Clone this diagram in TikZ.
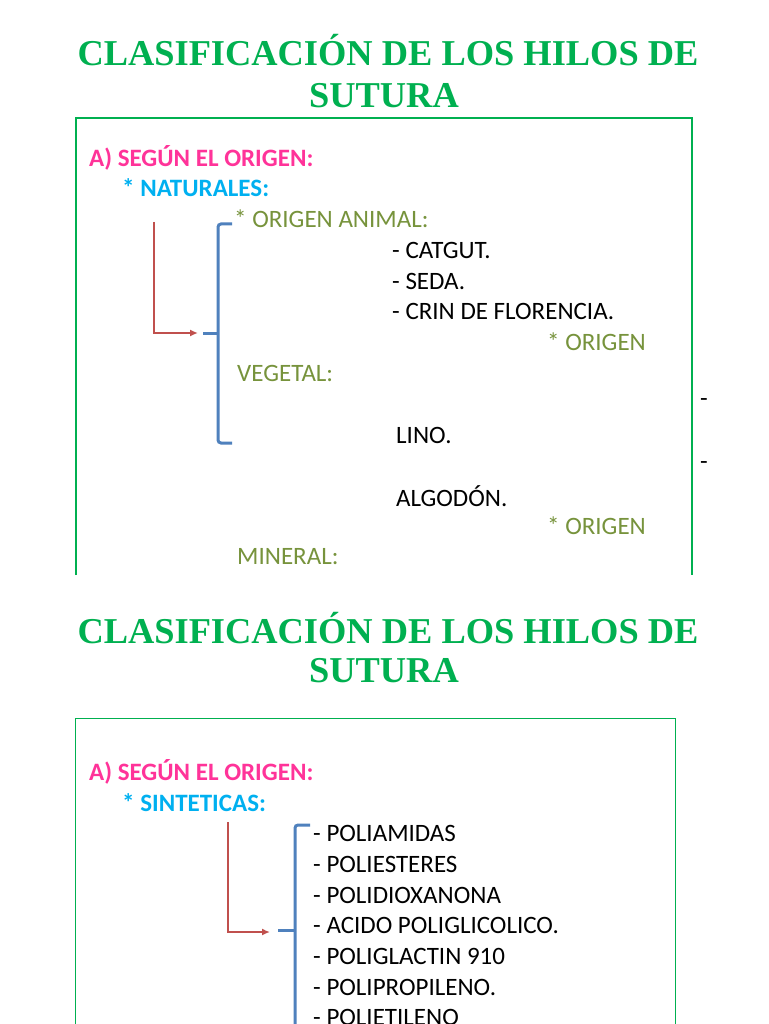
\documentclass[tikz,border=0pt]{standalone}
\usepackage{fontspec}
\usetikzlibrary{arrows.meta}
\setmainfont{Carlito}
\newfontfamily\titlefont{Liberation Serif}
\definecolor{tgreen}{HTML}{00B050}
\definecolor{tpink}{HTML}{FF3399}
\definecolor{tcyan}{HTML}{00B0F0}
\definecolor{tolive}{HTML}{77933C}
\definecolor{tred}{HTML}{C0504D}
\definecolor{tblue}{HTML}{4F81BD}
\begin{document}
\begin{tikzpicture}[x=1pt,y=-1pt,
  ttl/.style={text=tgreen,font=\titlefont\fontsize{36.4}{42}\selectfont\bfseries,align=center},
  txt/.style={anchor=west,inner sep=0,font=\fontsize{25}{28}\selectfont},
  pk/.style={txt,text=tpink,font=\fontsize{25}{28}\selectfont\bfseries},
  cy/.style={txt,text=tcyan,font=\fontsize{25}{28}\selectfont\bfseries},
  ol/.style={txt,text=tolive},
  bk/.style={txt,text=black},
  brk/.style={tblue,line width=3pt,rounded corners=3pt},
  arr/.style={tred,line width=2.5pt,-{Latex[length=8pt,width=7pt]}}]
\useasboundingbox (0,0) rectangle (768,1024);
\fill[white] (0,0) rectangle (768,1024);
\node[ttl] (t1) at (388,50) {CLASIFICACIÓN DE LOS HILOS DE};
\node[ttl] (t1b) at (384,96) {SUTURA};
\draw[tgreen,line width=1.5pt] (76,575) -- (76,118) -- (692,118) -- (692,575);
\node[pk] (a1) at (89,158) {A) SEGÚN EL ORIGEN:};
\node[cy] (n1) at (122,188) {* NATURALES:};
\node[ol] (oa) at (234,219) {* ORIGEN ANIMAL:};
\node[bk] at (392,250) {- CATGUT.};
\node[bk] at (392,281) {- SEDA.};
\node[bk] at (392,311) {- CRIN DE FLORENCIA.};
\node[ol] at (547,342) {* ORIGEN};
\node[ol] at (237,373) {VEGETAL:};
\node[bk] at (700,403) {-};
\node[bk] at (396,435) {LINO.};
\node[bk] at (700,466) {-};
\node[bk] at (396,496) {ALGODÓN.};
\node[ol] at (547,526) {* ORIGEN};
\node[ol] at (237,557) {MINERAL:};
\fill[white] (0,576) rectangle (768,592);
\coordinate (b1t) at (232,224);
\coordinate (b1m) at (203,333);
\draw[brk] (b1t) -- (218,224) -- (218,443) -- (232,443);
\draw[brk] (218,333) -- (b1m);
\coordinate (r1) at (154,222);
\draw[arr] (r1) -- (154,333) -- (198,333);
\node[ttl] (t2) at (388,628) {CLASIFICACIÓN DE LOS HILOS DE};
\node[ttl] (t2b) at (384,671) {SUTURA};
\draw[tgreen,line width=0.8pt] (75,1030) -- (75,718) -- (675,718) -- (675,1030);
\node[pk] at (89,772) {A) SEGÚN EL ORIGEN:};
\node[cy] at (122,803) {* SINTETICAS:};
\node[bk] at (313,833) {- POLIAMIDAS};
\node[bk] at (313,864) {- POLIESTERES};
\node[bk] at (313,895) {- POLIDIOXANONA};
\node[bk] at (313,925) {- ACIDO POLIGLICOLICO.};
\node[bk] at (313,956) {- POLIGLACTIN 910};
\node[bk] at (313,987) {- POLIPROPILENO.};
\node[bk] at (313,1017) {- POLIETILENO};
\coordinate (b2m) at (278,930);
\draw[brk] (310,825) -- (295,825) -- (295,1040);
\draw[brk] (295,930) -- (b2m);
\coordinate (r2) at (228,822);
\draw[arr] (r2) -- (228,932) -- (270,932);
\end{tikzpicture}
\end{document}
